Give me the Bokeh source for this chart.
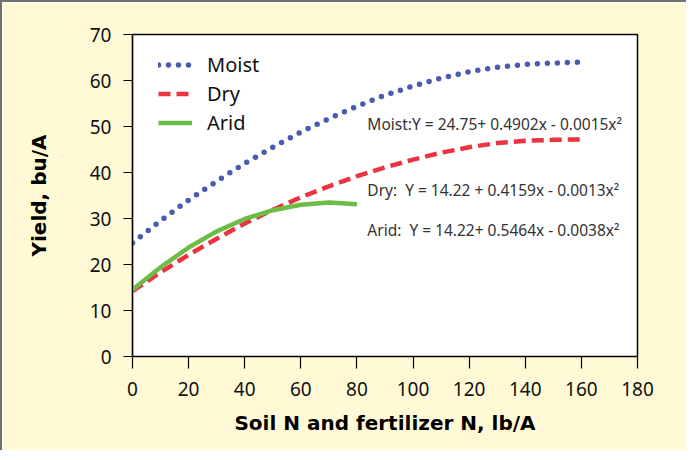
from bokeh.plotting import figure
from bokeh.models import Range1d, FixedTicker, Label
from bokeh.embed import file_html
from bokeh.resources import INLINE

# ---- data ----
x_moist = [0, 10, 20, 30, 40, 50, 60, 70, 80, 90, 100, 110, 120, 130, 140, 150, 160]
moist = [24.7, 29.5, 34.0, 38.1, 42.0, 45.5, 48.8, 51.7, 54.4, 56.8, 58.8, 60.5, 61.9, 62.9, 63.5, 63.8, 64.0]

x_dry = [0, 10, 20, 30, 40, 50, 60, 70, 80, 90, 100, 110, 120, 130, 140, 150, 160]
dry = [14.2, 18.3, 22.1, 25.6, 28.9, 31.9, 34.6, 37.0, 39.2, 41.1, 42.8, 44.3, 45.5, 46.4, 46.9, 47.1, 47.2]

x_arid = [0, 10, 20, 30, 40, 50, 60, 70, 80]
arid = [14.5, 19.4, 23.7, 27.2, 29.9, 31.8, 33.0, 33.5, 33.1]

x_ticks = [0, 20, 40, 60, 80, 100, 120, 140, 160, 180]
y_ticks = [0, 10, 20, 30, 40, 50, 60, 70]

NB = "\u00a0"
eq_moist = "Moist:Y = 24.75+ 0.4902x - 0.0015x\u00b2"
eq_dry = "Dry:" + NB + NB + "Y = 14.22 + 0.4159x - 0.0013x\u00b2"
eq_arid = "Arid:" + NB + NB + "Y = 14.22+ 0.5464x - 0.0038x\u00b2"

BG = "#FFFAD5"
TICK_FONT = "Noto Sans"

p = figure(width=686, height=450, output_backend="svg", toolbar_location=None,
           x_range=Range1d(0, 180), y_range=Range1d(0, 70),
           min_border_left=130, min_border_top=32, min_border_right=51, min_border_bottom=96,
           background_fill_color="white", border_fill_color=BG)
p.styles = {"border-left": "2px solid #707070", "border-top": "2px solid #707070"}
p.grid.visible = False
p.outline_line_color = "black"
p.outline_line_width = 1.5

p.line(x_moist, moist, line_color="#4A5BB0", line_width=5.5, line_dash="0 10",
       line_cap="round", legend_label="Moist")
p.line(x_dry, dry, line_color="#EE3340", line_width=4.5, line_dash="12 6",
       legend_label="Dry")
p.line(x_arid, arid, line_color="#6BBD45", line_width=4.5, legend_label="Arid")

for ax in (p.xaxis[0], p.yaxis[0]):
    ax.axis_line_color = "black"
    ax.axis_line_width = 1.2
    ax.major_tick_line_color = "black"
    ax.major_tick_line_width = 1.2
    ax.minor_tick_line_color = None
    ax.major_tick_in = 0
    ax.major_label_text_font = TICK_FONT
    ax.major_label_text_font_size = "19px"
    ax.major_label_text_color = "#111111"
    ax.axis_label_text_font = "DejaVu Sans"
    ax.axis_label_text_font_style = "bold"
    ax.axis_label_text_font_size = "20px"
    ax.axis_label_text_color = "black"

p.xaxis.ticker = FixedTicker(ticks=x_ticks)
p.yaxis.ticker = FixedTicker(ticks=y_ticks)
p.xaxis.major_tick_out = 12
p.yaxis.major_tick_out = 9
p.xaxis.major_label_standoff = 13
p.yaxis.major_label_standoff = 12
p.xaxis.axis_label = "Soil N and fertilizer N, lb/A"
p.yaxis.axis_label = "Yield, bu/A"
p.xaxis.axis_label_standoff = 12
p.yaxis.axis_label_standoff = 36

leg = p.legend[0]
leg.location = (26, 219)
leg.margin = 0
leg.padding = 0
leg.spacing = 0
leg.glyph_width = 34
leg.glyph_height = 29
leg.label_height = 29
leg.label_standoff = 15
leg.label_text_font = TICK_FONT
leg.label_text_font_size = "20px"
leg.label_text_color = "#111111"
leg.background_fill_alpha = 0
leg.border_line_alpha = 0

for txt, yv in ((eq_moist, 50.65), (eq_dry, 36.1), (eq_arid, 27.4)):
    p.add_layout(Label(x=83.7, y=yv, text=txt, text_font=TICK_FONT,
                       text_font_size="15.5px", text_color="#333333",
                       text_baseline="middle", text_align="left"))

open("out.html", "w").write(file_html(p, INLINE))
